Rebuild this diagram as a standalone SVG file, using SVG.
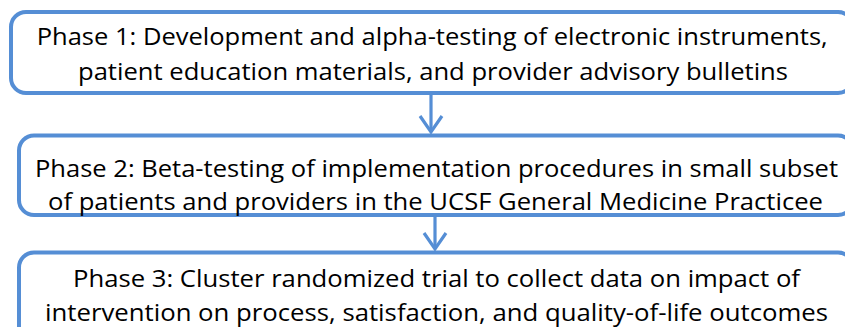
<svg xmlns="http://www.w3.org/2000/svg" width="845" height="327" viewBox="0 0 845 327">
<style>
.box{fill:#ffffff;stroke:#558ed5;stroke-width:4}
.t{font-family:"Open Sans","DejaVu Sans",sans-serif;font-size:24px;fill:#000000}
.conn{fill:none;stroke:#558ed5;stroke-width:3.2;stroke-linecap:butt;stroke-linejoin:miter}
</style>
<rect width="845" height="327" fill="#ffffff"/>
<g id="phase1">
<rect class="box" x="11" y="12" width="842" height="81" rx="15" ry="15"/>
<text class="t" x="36.7" y="45" textLength="791" lengthAdjust="spacingAndGlyphs">Phase 1: Development and alpha-testing of electronic instruments,</text>
<text class="t" x="78" y="80" textLength="710" lengthAdjust="spacingAndGlyphs">patient education materials, and provider advisory bulletins</text>
</g>
<g id="phase2">
<rect class="box" x="19" y="135.5" width="834" height="79.5" rx="15" ry="15"/>
<text class="t" x="35" y="177" textLength="803" lengthAdjust="spacingAndGlyphs">Phase 2: Beta-testing of implementation procedures in small subset</text>
<text class="t" x="48" y="210" textLength="775" lengthAdjust="spacingAndGlyphs">of patients and providers in the UCSF General Medicine Practicee</text>
</g>
<g id="phase3">
<rect class="box" x="19" y="252.5" width="834" height="95" rx="15" ry="15"/>
<text class="t" x="73" y="287" textLength="727" lengthAdjust="spacingAndGlyphs">Phase 3: Cluster randomized trial to collect data on impact of</text>
<text class="t" x="45" y="321" textLength="783" lengthAdjust="spacingAndGlyphs">intervention on process, satisfaction, and quality-of-life outcomes</text>
</g>
<g id="connectors">
<path class="conn" d="M431,95 L431,132"/>
<path class="conn" d="M420,116 L431,132 L442,116"/>
<path class="conn" d="M435,217 L435,249"/>
<path class="conn" d="M424,233 L435,249 L446,233"/>
</g>
</svg>
